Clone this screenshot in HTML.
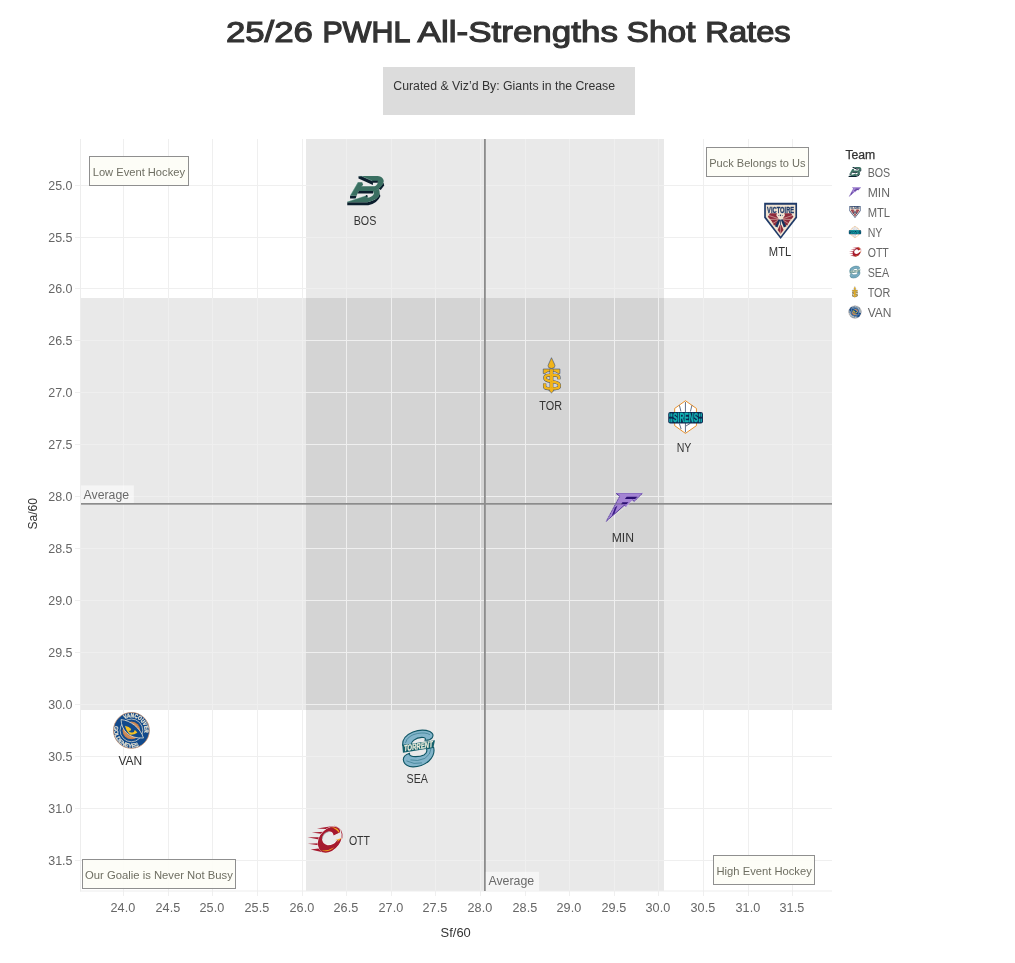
<!DOCTYPE html>
<html><head><meta charset="utf-8"><title>25/26 PWHL All-Strengths Shot Rates</title>
<style>html,body{margin:0;padding:0;background:#fff}body{width:1015px;height:963px;overflow:hidden}</style></head>
<body>
<svg width="1015" height="963" viewBox="0 0 1015 963" style="display:block;font-family:'Liberation Sans',sans-serif;will-change:transform">
<rect width="1015" height="963" fill="#fff"/>
<rect x="306" y="139" width="358" height="752" fill="#000" fill-opacity="0.086"/>
<rect x="81" y="298" width="751" height="412" fill="#000" fill-opacity="0.086"/>
<path d="M123.50 139V896M168.50 139V896M212.50 139V896M257.50 139V896M302.50 139V896M346.50 139V896M391.50 139V896M435.50 139V896M480.50 139V896M525.50 139V896M569.50 139V896M614.50 139V896M658.50 139V896M703.50 139V896M748.50 139V896M792.50 139V896M75 185.50H832M75 237.50H832M75 288.50H832M75 340.50H832M75 392.50H832M75 444.50H832M75 496.50H832M75 548.50H832M75 600.50H832M75 652.50H832M75 704.50H832M75 756.50H832M75 808.50H832M75 860.50H832" stroke="#efefef" stroke-width="1" fill="none"/>
<path d="M80.5 139V891.5M80 891.0H832" stroke="#ededed" stroke-width="1" fill="none"/>
<rect x="484" y="139" width="1.8" height="752" fill="#8c8c8c"/>
<rect x="81" y="503" width="751" height="1.7" fill="#8c8c8c"/>
<rect x="81" y="485.4" width="52.8" height="17.6" fill="#fff" fill-opacity="0.55"/>
<rect x="485.8" y="871.8" width="53.2" height="19" fill="#fff" fill-opacity="0.55"/>
<text x="83.6" y="498.6" font-size="12" fill="#6a6a6a" textLength="45.5" lengthAdjust="spacingAndGlyphs" >Average</text>
<text x="488.4" y="885.4" font-size="12" fill="#6a6a6a" textLength="45.8" lengthAdjust="spacingAndGlyphs" >Average</text>
<text x="48.2" y="190.2" font-size="12.5" fill="#666" textLength="24.3" lengthAdjust="spacingAndGlyphs" >25.0</text>
<text x="48.2" y="242.2" font-size="12.5" fill="#666" textLength="24.3" lengthAdjust="spacingAndGlyphs" >25.5</text>
<text x="48.2" y="293.2" font-size="12.5" fill="#666" textLength="24.3" lengthAdjust="spacingAndGlyphs" >26.0</text>
<text x="48.2" y="345.2" font-size="12.5" fill="#666" textLength="24.3" lengthAdjust="spacingAndGlyphs" >26.5</text>
<text x="48.2" y="397.2" font-size="12.5" fill="#666" textLength="24.3" lengthAdjust="spacingAndGlyphs" >27.0</text>
<text x="48.2" y="449.2" font-size="12.5" fill="#666" textLength="24.3" lengthAdjust="spacingAndGlyphs" >27.5</text>
<text x="48.2" y="501.2" font-size="12.5" fill="#666" textLength="24.3" lengthAdjust="spacingAndGlyphs" >28.0</text>
<text x="48.2" y="553.2" font-size="12.5" fill="#666" textLength="24.3" lengthAdjust="spacingAndGlyphs" >28.5</text>
<text x="48.2" y="605.2" font-size="12.5" fill="#666" textLength="24.3" lengthAdjust="spacingAndGlyphs" >29.0</text>
<text x="48.2" y="657.2" font-size="12.5" fill="#666" textLength="24.3" lengthAdjust="spacingAndGlyphs" >29.5</text>
<text x="48.2" y="709.2" font-size="12.5" fill="#666" textLength="24.3" lengthAdjust="spacingAndGlyphs" >30.0</text>
<text x="48.2" y="761.2" font-size="12.5" fill="#666" textLength="24.3" lengthAdjust="spacingAndGlyphs" >30.5</text>
<text x="48.2" y="813.2" font-size="12.5" fill="#666" textLength="24.3" lengthAdjust="spacingAndGlyphs" >31.0</text>
<text x="48.2" y="865.2" font-size="12.5" fill="#666" textLength="24.3" lengthAdjust="spacingAndGlyphs" >31.5</text>
<text x="110.6" y="911.9" font-size="12.5" fill="#666" textLength="24.6" lengthAdjust="spacingAndGlyphs" >24.0</text>
<text x="155.6" y="911.9" font-size="12.5" fill="#666" textLength="24.6" lengthAdjust="spacingAndGlyphs" >24.5</text>
<text x="199.6" y="911.9" font-size="12.5" fill="#666" textLength="24.6" lengthAdjust="spacingAndGlyphs" >25.0</text>
<text x="244.6" y="911.9" font-size="12.5" fill="#666" textLength="24.6" lengthAdjust="spacingAndGlyphs" >25.5</text>
<text x="289.6" y="911.9" font-size="12.5" fill="#666" textLength="24.6" lengthAdjust="spacingAndGlyphs" >26.0</text>
<text x="333.6" y="911.9" font-size="12.5" fill="#666" textLength="24.6" lengthAdjust="spacingAndGlyphs" >26.5</text>
<text x="378.6" y="911.9" font-size="12.5" fill="#666" textLength="24.6" lengthAdjust="spacingAndGlyphs" >27.0</text>
<text x="422.6" y="911.9" font-size="12.5" fill="#666" textLength="24.6" lengthAdjust="spacingAndGlyphs" >27.5</text>
<text x="467.6" y="911.9" font-size="12.5" fill="#666" textLength="24.6" lengthAdjust="spacingAndGlyphs" >28.0</text>
<text x="512.6" y="911.9" font-size="12.5" fill="#666" textLength="24.6" lengthAdjust="spacingAndGlyphs" >28.5</text>
<text x="556.6" y="911.9" font-size="12.5" fill="#666" textLength="24.6" lengthAdjust="spacingAndGlyphs" >29.0</text>
<text x="601.6" y="911.9" font-size="12.5" fill="#666" textLength="24.6" lengthAdjust="spacingAndGlyphs" >29.5</text>
<text x="645.6" y="911.9" font-size="12.5" fill="#666" textLength="24.6" lengthAdjust="spacingAndGlyphs" >30.0</text>
<text x="690.6" y="911.9" font-size="12.5" fill="#666" textLength="24.6" lengthAdjust="spacingAndGlyphs" >30.5</text>
<text x="735.6" y="911.9" font-size="12.5" fill="#666" textLength="24.6" lengthAdjust="spacingAndGlyphs" >31.0</text>
<text x="779.6" y="911.9" font-size="12.5" fill="#666" textLength="24.6" lengthAdjust="spacingAndGlyphs" >31.5</text>
<text x="440.6" y="936.8" font-size="12" fill="#333" textLength="30.2" lengthAdjust="spacingAndGlyphs" >Sf/60</text>
<g transform="translate(36.8 529.5) rotate(-90)">
<text x="0.0" y="0.0" font-size="12" fill="#333" textLength="31.3" lengthAdjust="spacingAndGlyphs" >Sa/60</text>
</g>
<text x="225.9" y="42.2" font-size="29.8" fill="#333" textLength="87.1" lengthAdjust="spacingAndGlyphs" stroke="#333" stroke-width="1.1" stroke-linejoin="miter">25/26</text>
<text x="322.5" y="42.2" font-size="29.8" fill="#333" textLength="87.8" lengthAdjust="spacingAndGlyphs" stroke="#333" stroke-width="1.3" stroke-linejoin="miter">PWHL</text>
<text x="417.6" y="42.2" font-size="29.8" fill="#333" textLength="200.4" lengthAdjust="spacingAndGlyphs" stroke="#333" stroke-width="1.1" stroke-linejoin="miter">All-Strengths</text>
<text x="626.6" y="42.2" font-size="29.8" fill="#333" textLength="68.9" lengthAdjust="spacingAndGlyphs" stroke="#333" stroke-width="1.15" stroke-linejoin="miter">Shot</text>
<text x="705.3" y="42.2" font-size="29.8" fill="#333" textLength="85.4" lengthAdjust="spacingAndGlyphs" stroke="#333" stroke-width="1.18" stroke-linejoin="miter">Rates</text>
<rect x="383" y="67" width="252" height="48" fill="#dcdcdc"/>
<text x="393.3" y="90.3" font-size="12" fill="#333" textLength="221.8" lengthAdjust="spacingAndGlyphs" >Curated &amp; Viz’d By: Giants in the Crease</text>
<rect x="89.5" y="156.5" width="99.0" height="29.0" fill="#fdfdf6" fill-opacity="0.93" stroke="#8f8f8f" stroke-width="1"/>
<text x="92.7" y="176.0" font-size="11.2" fill="#6e6e62" textLength="92.3" lengthAdjust="spacingAndGlyphs" >Low Event Hockey</text>
<rect x="706.5" y="147.5" width="102.0" height="29.0" fill="#fdfdf6" fill-opacity="0.93" stroke="#8f8f8f" stroke-width="1"/>
<text x="709.2" y="167.0" font-size="11.2" fill="#6e6e62" textLength="96.4" lengthAdjust="spacingAndGlyphs" >Puck Belongs to Us</text>
<rect x="82.5" y="859.5" width="153.0" height="29.0" fill="#fdfdf6" fill-opacity="0.93" stroke="#8f8f8f" stroke-width="1"/>
<text x="85.1" y="879.0" font-size="11.2" fill="#6e6e62" textLength="147.7" lengthAdjust="spacingAndGlyphs" >Our Goalie is Never Not Busy</text>
<rect x="713.5" y="855.5" width="101.0" height="29.0" fill="#fdfdf6" fill-opacity="0.93" stroke="#8f8f8f" stroke-width="1"/>
<text x="716.5" y="875.2" font-size="11.2" fill="#6e6e62" textLength="95.3" lengthAdjust="spacingAndGlyphs" >High Event Hockey</text>
<text x="353.7" y="224.6" font-size="12" fill="#333" textLength="22.6" lengthAdjust="spacingAndGlyphs" >BOS</text>
<text x="768.8" y="255.9" font-size="12" fill="#333" textLength="22.4" lengthAdjust="spacingAndGlyphs" >MTL</text>
<text x="539.3" y="409.8" font-size="12" fill="#333" textLength="22.7" lengthAdjust="spacingAndGlyphs" >TOR</text>
<text x="676.7" y="451.7" font-size="12" fill="#333" textLength="14.7" lengthAdjust="spacingAndGlyphs" >NY</text>
<text x="611.7" y="541.8" font-size="12" fill="#333" textLength="22.3" lengthAdjust="spacingAndGlyphs" >MIN</text>
<text x="118.4" y="764.9" font-size="12" fill="#333" textLength="23.8" lengthAdjust="spacingAndGlyphs" >VAN</text>
<text x="406.5" y="782.9" font-size="12" fill="#333" textLength="21.4" lengthAdjust="spacingAndGlyphs" >SEA</text>
<text x="348.9" y="844.8" font-size="12" fill="#333" textLength="21.1" lengthAdjust="spacingAndGlyphs" >OTT</text>
<text x="845.4" y="158.9" font-size="12" fill="#333" textLength="29.9" lengthAdjust="spacingAndGlyphs" stroke="#333" stroke-width="0.25">Team</text>
<text x="867.7" y="176.7" font-size="12" fill="#666" textLength="22.5" lengthAdjust="spacingAndGlyphs" >BOS</text>
<text x="867.7" y="196.7" font-size="12" fill="#666" textLength="22.3" lengthAdjust="spacingAndGlyphs" >MIN</text>
<text x="867.7" y="216.7" font-size="12" fill="#666" textLength="22.4" lengthAdjust="spacingAndGlyphs" >MTL</text>
<text x="867.7" y="236.7" font-size="12" fill="#666" textLength="14.7" lengthAdjust="spacingAndGlyphs" >NY</text>
<text x="867.7" y="256.7" font-size="12" fill="#666" textLength="21.1" lengthAdjust="spacingAndGlyphs" >OTT</text>
<text x="867.7" y="276.7" font-size="12" fill="#666" textLength="21.4" lengthAdjust="spacingAndGlyphs" >SEA</text>
<text x="867.7" y="296.7" font-size="12" fill="#666" textLength="22.7" lengthAdjust="spacingAndGlyphs" >TOR</text>
<text x="867.7" y="316.7" font-size="12" fill="#666" textLength="23.8" lengthAdjust="spacingAndGlyphs" >VAN</text>
<defs>
<g id="bos">
 <path d="M75,700 L540,700 Q790,640 828,495 L838,560 Q770,725 560,766 L75,766 Z" fill="#0b1e2d"/>
 <polygon points="795,385 916,250 926,312 848,418" fill="#0b1e2d"/>
 <polygon points="140,545 290,545 268,612 140,612" fill="#0b1e2d"/>
 <path d="M400,95 L780,95 Q900,110 918,205 Q905,300 800,388 L700,335 Q790,290 782,205 L650,205 Z" fill="#3a6f61"/>
 <polygon points="335,100 400,95 668,212 668,302 335,152" fill="#0b1e2d"/>
 <polygon points="650,200 782,200 782,246 662,246" fill="#0b1e2d"/>
 <polygon points="320,235 420,235 442,300 400,330 800,330 800,390 700,440 340,440 290,545 140,545" fill="#3a6f61"/>
 <polygon points="340,440 672,440 672,496 314,496" fill="#0b1e2d"/>
 <path d="M670,440 L800,386 Q835,450 825,510 Q790,640 540,700 L75,700 L75,688 L500,545 L546,545 L546,592 Q660,575 690,500 Z" fill="#3a6f61"/>
 <circle cx="522" cy="552" r="20" fill="#0b1e2d"/>
 <path d="M324,240 L146,545 M80,690 L498,547 M340,99 L405,96 L650,205" stroke="#8fcdbb" stroke-width="9" fill="none" stroke-opacity="0.85"/>
</g>
<g id="mtl">
 <path d="M135,105 H855 V430 L495,900 L135,430 Z" fill="#1f3a68"/>
 <path d="M172,150 H818 V418 L495,842 L172,418 Z" fill="#f1e4d2"/>
 <polygon points="265,335 415,335 400,380 440,440 455,480 390,590 350,600 300,510 215,410" fill="#8f2b3b"/>
 <polygon points="725,335 575,335 590,380 550,440 535,480 600,590 640,600 690,510 775,410" fill="#8f2b3b"/>
 <path d="M440,450 L230,380 M445,465 L260,470 M450,480 L320,560 M550,450 L760,380 M545,465 L730,470 M540,480 L670,560" stroke="#f1e4d2" stroke-width="11" fill="none"/>
 <polygon points="448,470 492,470 425,645 368,620" fill="#16305c"/>
 <polygon points="498,470 542,470 622,620 565,645" fill="#16305c"/>
 <rect x="486" y="480" width="18" height="125" fill="#1f3a68"/>
 <polygon points="478,590 430,700 495,782 560,700 512,590" fill="#8f2b3b"/>
 <rect x="490" y="600" width="9" height="170" fill="#f1e4d2"/>
 <circle cx="491" cy="380" r="17" fill="#1f3a68"/><circle cx="447" cy="381" r="10" fill="#1f3a68"/><circle cx="537" cy="381" r="10" fill="#1f3a68"/>
 <text x="198" y="326" font-size="200" font-weight="bold" fill="#1f3a68" stroke="#1f3a68" stroke-width="6" textLength="594" lengthAdjust="spacingAndGlyphs">VICTOIRE</text>
</g>
<g id="tor">
 <g fill="none" stroke="#24407a" stroke-width="72" stroke-linejoin="round">
  <path d="M632,598 L632,555 Q632,510 560,510 L400,510 Q326,510 326,566 Q326,616 400,630 L560,662 Q644,678 644,740 Q644,800 560,800 L400,800 Q320,800 320,750 L320,690"/>
 </g>
 <g fill="#f2b418" stroke="#24407a" stroke-width="12" stroke-linejoin="round">
  <path d="M470,125 L535,262 Q562,300 530,342 Q470,382 410,342 Q380,300 408,262 Z"/>
  <path d="M290,372 H655 V472 L618,472 Q560,425 505,425 L435,425 Q380,425 327,472 L290,472 Z"/>
  <path d="M435,380 H505 V835 L532,835 L470,895 L408,835 L435,835 Z"/>
 </g>
 <path d="M632,598 L632,555 Q632,510 560,510 L400,510 Q326,510 326,566 Q326,616 400,630 L560,662 Q644,678 644,740 Q644,800 560,800 L400,800 Q320,800 320,750 L320,690" fill="none" stroke="#f2b418" stroke-width="56"/>
 <rect x="441" y="378" width="58" height="455" fill="#f2b418"/>
 <circle cx="470" cy="410" r="7" fill="#c98a10"/><circle cx="470" cy="515" r="7" fill="#c98a10"/><circle cx="470" cy="648" r="7" fill="#c98a10"/><circle cx="470" cy="778" r="7" fill="#c98a10"/>
</g>
<g id="ny">
 <path d="M470,135 L691,290 V635 L470,790 L254,635 V290 Z" fill="#fff" stroke="#e8902a" stroke-width="20"/>
 <path d="M470,160 V770 M350,228 L380,352 M570,352 L600,228 M348,592 L384,705 M482,642 L568,588" stroke="#1b2f52" stroke-width="14" fill="none"/>
 <rect x="125" y="360" width="697" height="232" rx="42" fill="#0c2850"/>
 <g fill="#12b3b3">
  <rect x="146" y="385" width="26" height="72" rx="10"/><rect x="182" y="385" width="26" height="72" rx="10"/>
  <rect x="146" y="493" width="26" height="72" rx="10"/><rect x="182" y="493" width="26" height="72" rx="10"/>
  <rect x="738" y="385" width="26" height="72" rx="10"/><rect x="774" y="385" width="26" height="72" rx="10"/>
  <rect x="738" y="493" width="26" height="72" rx="10"/><rect x="774" y="493" width="26" height="72" rx="10"/>
 </g>
 <text x="222" y="566" font-size="250" font-weight="bold" fill="#12b3b3" stroke="#12b3b3" stroke-width="9" textLength="505" lengthAdjust="spacingAndGlyphs">SIRENS</text>
</g>
<g id="min">
 <path d="M320,185 L855,185 L685,350 L650,320 L520,455 L490,425 L125,750 L395,245 Z" fill="#a484d4" stroke="#fff" stroke-width="14" stroke-linejoin="miter" stroke-opacity="0.8"/>
 <path d="M320,185 L855,185 L685,350 L650,320 L520,455 L490,425 L125,750 L395,245 Z" fill="#a484d4"/>
 <polygon points="535,258 750,258 705,300 500,300" fill="#2b0f72"/>
 <polygon points="450,368 570,368 530,408 420,408" fill="#2b0f72"/>
 <path d="M850,188 L685,350 L650,320 M520,455 L490,425 L125,750 L395,245 L322,188" stroke="#3a1c86" stroke-width="16" fill="none"/>
 <path d="M850,188 L685,350 M520,455 L125,750 L395,245" stroke="#fff" stroke-width="10" fill="none" stroke-dasharray="16 20"/>
 <path d="M322,189 H850" stroke="#5d3fa8" stroke-width="9"/>
 <polygon points="300,470 350,430 290,590 235,640" fill="#3a1c86"/>
</g>
<g id="van">
 <circle cx="470" cy="470" r="360" fill="#124a8c" stroke="#c98b62" stroke-width="14"/>
 <circle cx="470" cy="470" r="228" fill="none" stroke="#efe8d4" stroke-width="14"/>
 <circle cx="470" cy="470" r="178" fill="#c8814e"/>
 <circle cx="470" cy="470" r="140" fill="none" stroke="#d9a47a" stroke-width="12"/>
 <path d="M262,252 C450,270 650,420 712,622 C420,640 270,470 262,252 Z" fill="#124a8c" stroke="#efe8d4" stroke-width="15" stroke-linejoin="round"/>
 <path d="M340,376 Q425,398 465,440 Q455,500 412,472 Q432,535 520,500 Q528,470 540,460 Q578,488 588,515 Q520,562 450,556 Q372,500 340,376 Z" fill="#f5c324"/>
 <path id="vtop" d="M331.2,247.8 A262,262 0 0 1 726.3,524.5" fill="none"/>
 <path id="vbot" d="M135.5,374.1 A348,348 0 0 0 633.4,777.3" fill="none"/>
 <text font-size="116" font-weight="bold" fill="#efe8d4" stroke="#efe8d4" stroke-width="5" textLength="600" lengthAdjust="spacingAndGlyphs"><textPath href="#vtop" startOffset="4">VANCOUVER</textPath></text>
 <text font-size="116" font-weight="bold" fill="#efe8d4" stroke="#efe8d4" stroke-width="2" textLength="800" lengthAdjust="spacingAndGlyphs"><textPath href="#vbot" startOffset="4">GOLDENEYES</textPath></text>
</g>
<g id="sea">
 <g fill="#82b4ca" stroke="#0e5564" stroke-width="22" stroke-linejoin="round">
  <path d="M172,425 Q160,250 380,160 Q560,92 720,150 Q812,200 770,272 Q720,332 620,326 Q652,282 590,270 Q480,258 392,330 Q340,372 345,425 Z"/>
  <path d="M795,468 Q832,620 700,742 Q560,862 380,860 Q200,850 186,712 Q190,622 312,585 Q300,640 380,652 Q520,662 600,622 Q682,572 650,500 Z"/>
 </g>
 <path d="M230,380 Q270,230 470,190 Q640,160 720,215 M330,720 Q470,760 620,690 Q740,610 740,500 M250,740 Q400,820 560,780" stroke="#2f7488" stroke-width="13" fill="none"/>
 <polygon points="165,420 822,328 790,478 180,578" fill="#14606b"/>
 <g transform="translate(196 548) rotate(-8.5) skewX(-12)"><text x="0" y="0" font-size="172" font-weight="bold" fill="#efeedd" stroke="#efeedd" stroke-width="5" textLength="585" lengthAdjust="spacingAndGlyphs">TORRENT</text></g>
</g>
<g id="ott">
 <g fill="#a6192e">
  <polygon points="215,158 420,128 470,150 330,165"/>
  <polygon points="150,208 300,200 290,228"/>
  <polygon points="95,270 250,270 240,298"/>
  <polygon points="100,352 235,345 235,372"/>
  <polygon points="135,425 260,410 300,462"/>
 </g>
 <path d="M440,128 Q552,165 532,285" stroke="#a6192e" stroke-width="10" fill="none"/>
 <path d="M505,208 Q525,150 440,135 Q330,135 258,240 Q200,340 248,425 Q300,495 405,445 Q505,385 528,283 L468,310 Q430,372 350,370 Q282,360 280,290 Q290,215 365,196 Q418,190 426,246 Z" fill="#a6192e" stroke="#fff" stroke-width="10" stroke-linejoin="round" paint-order="stroke"/>
 <path d="M282,292 Q290,216 365,198" stroke="#8e9aa0" stroke-width="9" fill="none"/>
 <path d="M395,140 Q505,150 498,218 Q470,172 395,140 Z M440,308 L528,280 L470,335 L488,302 Z M262,432 Q340,455 435,398 Q350,475 262,432 Z" fill="#f7a81b"/>
</g>
</defs>
<use href="#bos" transform="translate(344 172) scale(0.04335)"/>
<use href="#mtl" transform="translate(758 198) scale(0.045691)"/>
<use href="#tor" transform="translate(530 352) scale(0.045691)"/>
<use href="#ny"  transform="translate(662 394) scale(0.049844)"/>
<use href="#min" transform="translate(600 484) scale(0.049844)"/>
<use href="#van" transform="translate(108 707) scale(0.049844)"/>
<use href="#sea" transform="translate(394 724) scale(0.049844)"/>
<use href="#ott" transform="translate(300 816) scale(0.078818)"/>

<use href="#bos" transform="translate(847.47 165.52) scale(0.01511)"/>
<use href="#min" transform="translate(847.21 184.61) scale(0.01589)"/>
<use href="#mtl" transform="translate(847.40 204.29) scale(0.01535)"/>
<use href="#ny" transform="translate(846.64 223.84) scale(0.01765)"/>
<use href="#ott" transform="translate(846.31 243.72) scale(0.02782)"/>
<use href="#sea" transform="translate(846.92 264.02) scale(0.01638)"/>
<use href="#tor" transform="translate(847.98 284.58) scale(0.01455)"/>
<use href="#van" transform="translate(846.78 303.78) scale(0.01749)"/>
<rect x="615.3" y="503" width="7.2" height="1.7" fill="#5b5470" fill-opacity="0.45"/>
</svg>
</body></html>
